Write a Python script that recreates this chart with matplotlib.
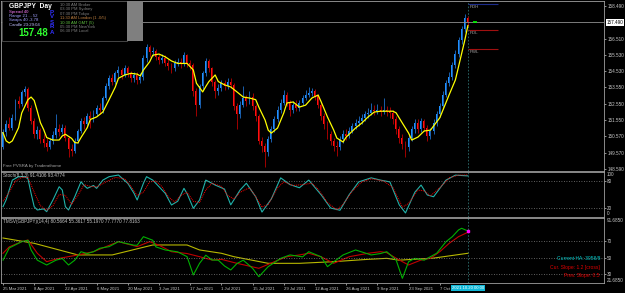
import matplotlib
matplotlib.use("Agg")
from matplotlib import pyplot as plt
from matplotlib.patches import Rectangle

plt.rcParams["font.family"] = ["Liberation Sans", "DejaVu Sans"]

# GBPJPY daily, values
first_open = 149.95
closes = [150.85, 151.35, 151.10, 151.70, 152.70, 152.55, 153.25, 153.45, 152.30, 151.50,
          150.70, 150.95, 150.40, 150.20, 149.95, 150.30, 150.65, 151.05, 150.85, 151.10,
          150.50, 149.80, 149.70, 150.30, 150.90, 151.50, 151.30, 151.80, 151.60, 151.95,
          152.30, 152.15, 152.90, 153.60, 154.10, 153.90, 154.40, 154.60, 154.30, 154.70,
          154.40, 154.10, 154.30, 154.00, 154.20, 155.30, 156.00, 155.70, 155.75, 155.40,
          155.20, 155.35, 155.05, 154.85, 154.70, 155.00, 155.10, 155.00, 155.50, 155.00,
          154.90, 153.30, 152.50, 153.60, 154.40, 155.15, 154.70, 153.90, 153.30, 153.50,
          153.80, 153.60, 153.90, 153.70, 152.40, 151.90, 152.50, 152.90, 152.70, 152.95,
          152.40, 151.80, 150.30, 150.00, 149.60, 150.40, 151.00, 151.60, 152.20, 152.60,
          153.10, 152.60, 152.20, 152.50, 152.30, 152.60, 152.90, 153.10, 153.20, 153.30,
          153.00, 152.50, 151.80, 151.30, 150.70, 150.30, 150.00, 149.90, 150.40, 150.70,
          150.60, 150.90, 151.20, 151.40, 151.50, 151.70, 151.90, 152.00, 152.20, 152.10,
          152.20, 152.05, 152.15, 152.10, 152.00, 151.60, 151.00, 150.50, 150.10, 149.90,
          150.50, 151.00, 151.40, 151.00, 151.50, 151.10, 150.60, 150.90, 151.40, 151.90,
          152.40, 153.10, 153.80, 154.20, 154.90, 155.60, 156.40, 157.10, 157.75, 157.49]
highs = [151.05, 151.55, 151.75, 151.90, 152.85, 153.05, 153.40, 153.60, 153.55, 152.50,
         151.70, 151.20, 151.10, 150.70, 150.45, 150.50, 150.90, 151.90, 151.30, 151.30,
         151.25, 150.60, 150.10, 150.45, 151.05, 151.70, 151.75, 152.00, 152.10, 152.15,
         152.50, 152.60, 153.05, 153.80, 154.30, 154.35, 154.55, 154.85, 154.75, 154.90,
         154.85, 154.55, 154.50, 154.45, 154.40, 155.50, 156.15, 156.10, 156.00, 155.90,
         155.60, 155.55, 155.50, 155.25, 155.05, 155.20, 155.35, 155.30, 155.70, 155.60,
         155.20, 155.00, 153.50, 153.75, 154.55, 155.30, 155.25, 154.80, 154.00, 153.75,
         154.00, 154.00, 154.10, 154.10, 153.80, 152.60, 152.70, 153.60, 153.10, 153.30,
         153.20, 152.55, 151.95, 150.55, 150.20, 150.60, 151.20, 151.80, 152.40, 152.85,
         153.40, 153.25, 152.75, 152.70, 152.80, 152.80, 153.10, 153.40, 153.55, 153.50,
         153.45, 153.15, 152.65, 152.00, 151.50, 150.90, 150.50, 150.30, 150.60, 150.95,
         151.00, 151.15, 151.40, 151.65, 151.80, 151.95, 152.10, 152.30, 152.60, 152.45,
         152.55, 152.40, 152.90, 152.40, 152.35, 152.20, 151.80, 151.20, 150.70, 150.30,
         150.70, 151.20, 151.65, 151.60, 151.70, 151.65, 151.25, 151.10, 151.60, 152.10,
         152.60, 153.30, 154.00, 154.45, 155.10, 155.80, 156.60, 157.30, 158.00, 157.90]
lows = [149.80, 150.60, 150.95, 150.95, 151.55, 152.30, 152.40, 153.00, 152.10, 151.30,
        150.50, 150.40, 150.20, 149.90, 149.70, 149.80, 150.10, 150.50, 150.60, 150.70,
        150.30, 149.30, 149.40, 149.55, 150.15, 150.75, 151.00, 151.15, 151.10, 151.45,
        151.80, 151.95, 152.00, 152.75, 153.45, 153.70, 153.75, 154.20, 154.05, 154.15,
        154.20, 153.85, 153.90, 153.75, 153.80, 154.00, 155.10, 155.40, 155.45, 155.20,
        154.95, 155.00, 154.85, 154.60, 154.40, 154.55, 154.85, 154.75, 154.85, 154.80,
        154.60, 153.00, 151.80, 152.30, 153.40, 154.25, 154.50, 153.60, 152.90, 153.10,
        153.30, 153.40, 153.45, 153.50, 152.20, 151.00, 151.70, 152.35, 152.40, 152.55,
        152.20, 151.50, 150.10, 149.60, 148.70, 149.40, 150.25, 150.85, 151.45, 152.00,
        152.45, 152.40, 151.80, 152.00, 152.10, 152.10, 152.45, 152.75, 152.95, 153.00,
        152.80, 152.30, 151.55, 151.05, 150.40, 150.05, 149.70, 149.40, 149.75, 150.20,
        150.35, 150.45, 150.75, 151.00, 151.20, 151.30, 151.50, 151.70, 151.85, 151.85,
        151.90, 151.80, 151.90, 151.80, 151.70, 151.35, 150.70, 150.20, 149.80, 149.30,
        149.70, 150.30, 150.80, 150.80, 150.85, 150.90, 150.30, 150.40, 150.70, 151.20,
        151.75, 152.25, 152.95, 153.60, 154.00, 154.70, 155.40, 156.20, 156.90, 157.30]

# yellow moving average (bar index, price)
ma_bars = [0, 1, 2, 3, 5, 6, 8, 9, 10, 11, 12, 13, 14, 16, 18, 19, 20, 22, 23, 24,
           25, 27, 28, 30, 32, 34, 36, 37, 39, 41, 43, 44, 45, 47, 48, 50, 52, 54, 56, 59,
           61, 62, 64, 65, 66, 68, 69, 71, 73, 75, 77, 79, 81, 82, 84, 85, 86, 88, 90, 91,
           93, 95, 97, 99, 101, 102, 104, 106, 107, 109, 110, 113, 115, 117, 119, 121, 125, 126, 128, 130,
           131, 133, 135, 137, 140, 143, 145, 146, 148, 149]
ma_vals = [150.80, 150.30, 150.17, 150.30, 151.10, 151.99, 152.80, 152.96, 152.75, 152.10,
           151.40, 151.00, 150.50, 150.35, 150.35, 150.60, 150.70, 150.45, 150.20, 150.17,
           150.50, 151.10, 151.60, 151.75, 152.05, 152.80, 153.57, 154.10, 154.30, 154.40,
           154.35, 154.24, 154.60, 155.10, 155.50, 155.57, 155.40, 155.15, 155.00, 155.00,
           154.60, 153.80, 153.27, 153.60, 153.90, 154.30, 153.90, 153.70, 153.57, 153.27,
           152.96, 152.90, 152.80, 152.35, 151.56, 150.95, 150.77, 151.08, 152.00, 152.60,
           152.66, 152.35, 152.47, 152.90, 153.08, 152.66, 151.75, 150.95, 150.47, 150.23,
           150.53, 151.08, 151.38, 151.75, 152.05, 152.10, 152.10, 152.00, 151.38, 150.77,
           150.35, 150.53, 150.90, 150.95, 151.70, 153.10, 154.00, 154.80, 156.40, 157.30]

price_ticks = [158.490, 156.510, 155.530, 154.530, 153.550, 152.550, 151.550, 150.570, 149.570, 148.590]
bid = 157.49
level_names = ["PDH", "PDL", "PWL"]
level_prices = [158.60, 157.03, 155.88]

date_bars = [0, 10, 20, 30, 40, 50, 60, 70, 80, 90, 100, 110, 120, 130, 140]
date_labels = ["25 Mar 2021", "8 Apr 2021", "22 Apr 2021", "6 May 2021", "20 May 2021",
               "3 Jun 2021", "17 Jun 2021", "1 Jul 2021", "15 Jul 2021", "29 Jul 2021",
               "12 Aug 2021", "26 Aug 2021", "9 Sep 2021", "23 Sep 2021", "7 Oct"]

# stochastic (8,3,3)
sto_bars = [0, 1, 3, 5, 7, 8, 9, 10, 11, 13, 14, 16, 18, 19, 20, 21, 23, 25, 26, 27,
            29, 30, 32, 34, 37, 40, 42, 43, 45, 46, 48, 50, 52, 54, 56, 58, 59, 61, 63, 65,
            68, 71, 73, 76, 78, 81, 83, 86, 89, 92, 95, 98, 102, 105, 108, 111, 114, 118, 121, 124,
            127, 129, 132, 134, 136, 138, 142, 145, 149]
sto_main = [23, 38, 82, 89.6, 89.6, 85, 52.6, 22.9, 15.6, 18, 11.9, 37.8, 67.3, 60, 22.9, 15.6, 45, 78.4, 70, 63.7,
            70, 63.7, 82, 89.6, 93.3, 74.8, 52.6, 37.8, 74.8, 89.6, 82, 67.3, 52.6, 26.7, 35, 63.7, 52, 19.3, 37.8, 82,
            71, 62, 27, 60, 75, 45, 11, 40, 87, 72, 65, 82, 49, 20, 15, 50, 78, 87, 82, 78,
            27, 9, 55, 71, 49, 45, 82, 93, 91.4]
sig_bars = [0, 2, 4, 6, 8, 10, 12, 14, 16, 18, 20, 22, 24, 26, 28, 30, 33, 36, 39, 41,
            43, 45, 47, 49, 51, 53, 55, 57, 59, 61, 63, 65, 67, 70, 72, 74, 76, 79, 81, 83,
            85, 88, 90, 93, 96, 99, 101, 104, 107, 109, 112, 115, 118, 122, 125, 128, 130, 133, 135, 137,
            140, 143, 146, 149]
sig_vals = [35, 55, 80, 88, 88, 55, 25, 15, 25, 50, 48, 28, 48, 72, 68, 67, 78, 88, 85, 68,
            48, 55, 78, 80, 67, 45, 33, 48, 55, 35, 32, 60, 75, 68, 48, 40, 55, 65, 45, 22,
            28, 65, 78, 70, 72, 75, 62, 32, 16, 28, 58, 78, 85, 80, 65, 22, 30, 60, 58, 47,
            65, 87, 93, 93.5]

# TMS panel lines
tg_bars = [0, 2, 6, 8, 9, 11, 14, 17, 19, 21, 23, 25, 27, 29, 31, 34, 37, 42, 43, 45,
           48, 49, 52, 56, 59, 61, 63, 65, 67, 69, 71, 73, 75, 77, 80, 82, 85, 89, 92, 96,
           98, 102, 104, 106, 109, 113, 118, 121, 123, 126, 128, 130, 132, 135, 137, 139, 142, 144, 146, 147, 149]
tg_vals = [47, 61.7, 69.3, 71, 59.3, 47, 41.2, 47, 49, 41.2, 47, 57.2, 55, 57.2, 61.3, 63.3, 69.3, 65, 65, 75.3,
           71, 63, 59.3, 57, 51.2, 29.2, 43.2, 53, 47.2, 47, 40, 35.2, 43, 47, 37.2, 27.1, 39.2, 49.2, 53.3, 51,
           57.2, 51, 39.2, 45, 53.3, 59.3, 53.3, 55, 57.2, 47.2, 25.1, 45.2, 49.2, 47, 51.2, 55.3, 69.3, 75.3, 83.4, 85.4, 82.2]
tr_bars = [0, 2, 6, 8, 11, 14, 18, 24, 29, 33, 37, 43, 47, 50, 54, 59, 63, 67, 70, 75,
           82, 87, 91, 95, 98, 102, 106, 111, 117, 121, 123, 127, 130, 134, 137, 140, 143, 146, 149]
tr_vals = [55.3, 63, 69.3, 71.3, 55.3, 45.2, 49.2, 53.3, 57.2, 63.3, 69.3, 63.3, 69.3, 65, 57.2, 55, 51.2, 47.2, 48, 43.2,
           37.2, 45.2, 51.2, 53.3, 55.3, 51, 43.2, 51.2, 55.3, 57.2, 56, 47.2, 41.2, 47.2, 49.2, 57.2, 67.3, 75.3, 80.6]
ty_bars = [0, 10, 24, 35, 48, 59, 63, 70, 74, 85, 95, 106, 117, 123, 127, 138, 149]
ty_vals = [73.7, 67.3, 53.3, 53.3, 65.3, 65.3, 59.3, 55.3, 51.2, 43.2, 43.2, 45.2, 48, 49.2, 47, 49.5, 55.3]

W, H = 625, 293
RIGHT = 604
fig = plt.figure(figsize=(W / 100, H / 100), dpi=100, facecolor="black")


def box(x0, y0, x1, y1):
    return [x0 / W, 1 - y1 / H, (x1 - x0) / W, (y1 - y0) / H]


def ptext(x, y, s, **kw):
    fig.text(x / W, 1 - y / H, s, zorder=7, **kw)


ax_main = fig.add_axes(box(1, 1, RIGHT, 171))
ax_sto = fig.add_axes(box(1, 172, RIGHT, 217))
ax_tms = fig.add_axes(box(1, 218, RIGHT, 283))

xlim = ((1 - 3) / 3.12, (RIGHT - 3) / 3.12)
for ax in (ax_main, ax_sto, ax_tms):
    ax.set_facecolor("black")
    ax.set_xlim(*xlim)
    for sp in ax.spines.values():
        sp.set_color("#a0a0a0")
        sp.set_linewidth(0.6)
    ax.yaxis.tick_right()
    ax.tick_params(axis="y", colors="#c8c8c8", labelsize=3.3, length=1.5, width=0.5, pad=0.8)
    ax.axvline(149, color="#2e7070", lw=0.6, ls=(0, (2, 2)))

# candles
opens = [first_open] + closes[:-1]
bars = list(range(len(closes)))
up = [c >= o for o, c in zip(opens, closes)]
body_col = ["#1e90ff" if u else "#ff1010" for u in up]
wick_col = ["#1a5fae" if u else "#a00000" for u in up]
ax_main.vlines(bars, lows, highs, colors=wick_col, lw=0.7)
ax_main.bar(bars, [max(abs(c - o), 0.04) for o, c in zip(opens, closes)],
            bottom=[min(o, c) for o, c in zip(opens, closes)],
            width=0.62, color=body_col, lw=0)
ax_main.plot(ma_bars, ma_vals, color="#ffff00", lw=0.9)
ax_main.axhline(bid, color="#909090", lw=0.6)
ax_main.hlines(bid, 150.6, 152.0, color="#00ff00", lw=1.2)
for name, lv, col in zip(level_names, level_prices, ["#1c2c8c", "#a01010", "#a01010"]):
    ax_main.hlines(lv, 149, 158.6, color=col, lw=0.8)
    ax_main.text(149.6, lv - 0.08, name, color="#a0a0a0", fontsize=3.2, va="top")

ax_main.set_ylim(148.47, 158.79)
ax_main.set_yticks(price_ticks)
ax_main.set_yticklabels(["%.3f" % p for p in price_ticks])
ax_main.tick_params(axis="x", bottom=False, labelbottom=False)
ax_main.text(1.004, bid, "157.490", transform=ax_main.get_yaxis_transform(), fontsize=3.3,
             color="black", va="center", ha="left",
             bbox=dict(facecolor="white", edgecolor="none", pad=0.5))

# stochastic
ax_sto.plot(sto_bars, sto_main, color="#20b2aa", lw=0.8)
ax_sto.plot(sig_bars, sig_vals, color="#ff0000", lw=0.7, ls=(0, (1, 1)))
for lv in (80, 20):
    ax_sto.axhline(lv, color="#808080", lw=0.6, ls=(0, (1, 2)))
ax_sto.set_ylim(0, 100)
ax_sto.set_yticks([80, 20])
ax_sto.set_yticklabels(["80", "20"])
ax_sto.tick_params(axis="x", bottom=False, labelbottom=False)
ptext(3, 176, "Stoch(8,3,3) 91.4106 93.4774", color="#c8c8c8", fontsize=3.3, va="center")
ptext(607, 175, "100", color="#c8c8c8", fontsize=3.3, va="center")
ptext(607, 213.5, "0", color="#c8c8c8", fontsize=3.3, va="center")

# TMS panel
ax_tms.plot(ty_bars, ty_vals, color="#b8b800", lw=0.8)
ax_tms.plot(tr_bars, tr_vals, color="#c00000", lw=0.8)
ax_tms.plot(tg_bars, tg_vals, color="#00b000", lw=0.8)
ax_tms.plot([149], [tg_vals[-1]], marker="s", ms=1.5, color="#ff00ff")
for lv in (70, 50, 30):
    ax_tms.axhline(lv, color="#808080", lw=0.6, ls=(0, (1, 2)))
ax_tms.set_ylim(19.5, 97.8)
ax_tms.set_yticks([70, 50, 30])
ax_tms.set_yticklabels(["70", "50", "30"])
ax_tms.set_xticks(date_bars)
ax_tms.set_xticklabels(date_labels, fontsize=3.1, color="#c8c8c8", ha="left")
ax_tms.tick_params(axis="x", colors="#c8c8c8", length=1.5, width=0.5, pad=1.2)
ax_tms.text(149, -0.045, "2021.10.20 00:00", transform=ax_tms.get_xaxis_transform(),
            fontsize=3.1, color="white", ha="center", va="top", zorder=8, clip_on=False,
            bbox=dict(facecolor="#10b8d8", edgecolor="none", pad=0.6))
ptext(3, 221, "TMSV(GBPJPY)(14,4) 80.5664 55.3617 55.1970 77.7770 77.8163",
      color="#c8c8c8", fontsize=3.3, va="center")
ptext(607, 221, "91.6850", color="#c8c8c8", fontsize=3.3, va="center")
ptext(607, 280.5, "21.6850", color="#c8c8c8", fontsize=3.3, va="center")
ptext(600, 258, "Current HA: 3058/8", color="#00c8c8", fontsize=3.6, ha="right", va="center")
ptext(600, 267, "Cur. Slope: 1.2 [cross]", color="#e00000", fontsize=3.6, ha="right", va="center")
ptext(600, 275, "Prev. Slope: 0.5", color="#e00000", fontsize=3.6, ha="right", va="center")

# info box top-left
fig.patches.append(Rectangle((2 / W, 1 - 41 / H), 125 / W, 40 / H, transform=fig.transFigure,
                             facecolor="black", edgecolor="#505050", lw=0.6, zorder=5))
fig.patches.append(Rectangle((127 / W, 1 - 41 / H), 16 / W, 40 / H, transform=fig.transFigure,
                             facecolor="#7f7f7f", edgecolor="none", zorder=5))
ptext(9, 6, "GBPJPY  Day", color="white", fontsize=4.8, fontweight="bold", va="center")
ptext(9, 11.5, "Spread 40", color="#ff80ff", fontsize=3.1, va="center")
ptext(9, 16, "Range 21 ... 52", color="#a0a0ff", fontsize=3.1, va="center")
ptext(9, 20.5, "Swaps 40 -3.78", color="#a0a0ff", fontsize=3.1, va="center")
ptext(9, 25, "Candle 23:29:04", color="#c0c0ff", fontsize=3.1, va="center")
ptext(18, 33, "157.48", color="#30ff30", fontsize=7, fontweight="bold", va="center")
for k, ch in enumerate("PVSRA"):
    ptext(52, 12 + k * 5, ch, color="#3030ff", fontsize=4.4, fontweight="bold", ha="center", va="center")
times = ["10:30 AM Broker", "03:30 PM Sydney", "07:30 PM Tokyo", "11:30 AM London (1 -0/5)",
         "10:30 AM GMT (5)", "05:30 PM NewYork", "06:30 PM Local"]
time_cols = ["#808080", "#808080", "#808080", "#c08040", "#60c040", "#808080", "#808080"]
for k, (t, c) in enumerate(zip(times, time_cols)):
    ptext(60, 5 + k * 4.4, t, color=c, fontsize=3.0, va="center")
ptext(3, 166.5, "Free PVSRA by Traderathome", color="#a0a0a0", fontsize=3.2, va="center")

fig.savefig("out.png", dpi=100, facecolor="black")
